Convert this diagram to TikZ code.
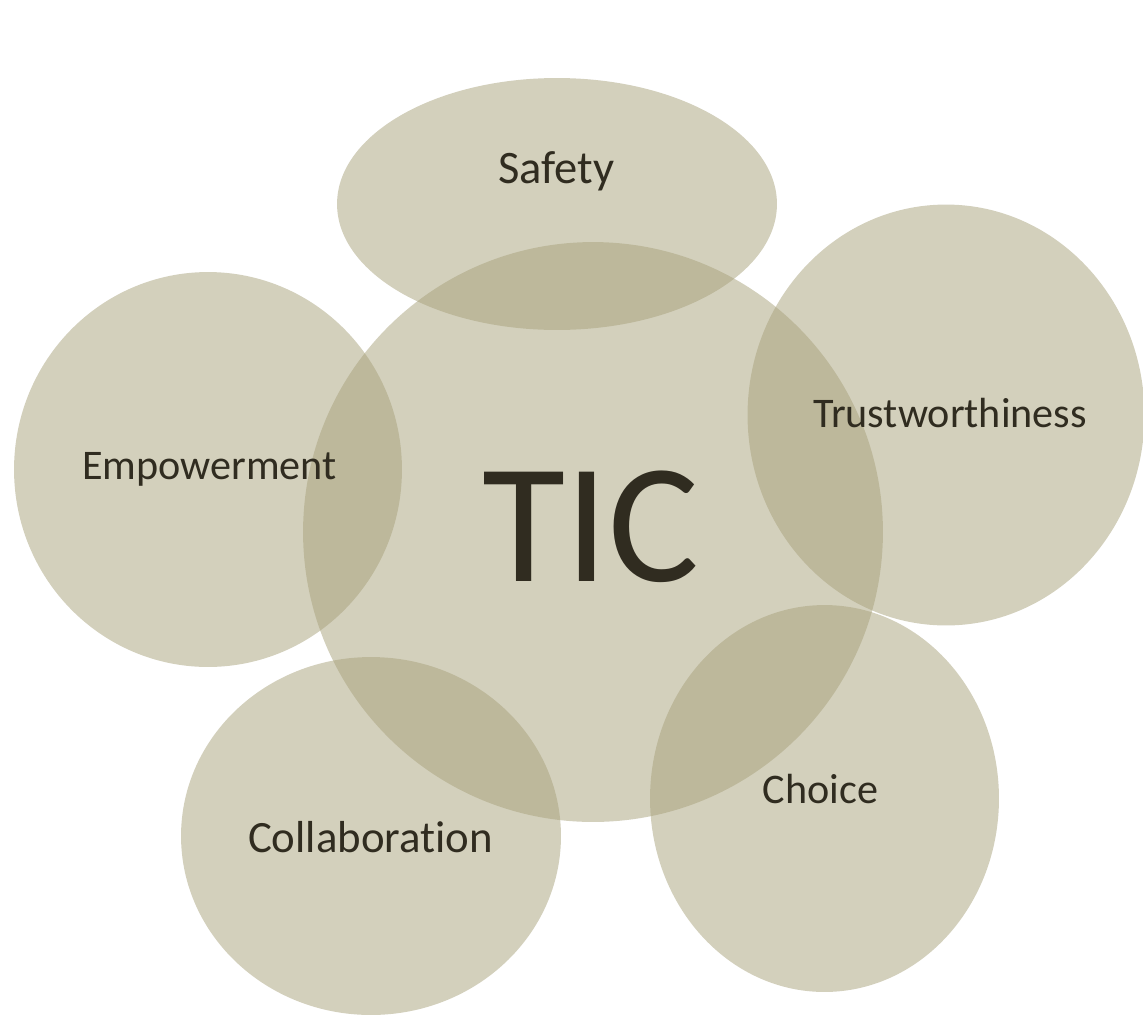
\documentclass[tikz,border=0pt]{standalone}
\usepackage{fontspec}
\setmainfont[Ligatures=NoCommon]{Carlito}
\usetikzlibrary{shapes.geometric}
\definecolor{blobfill}{RGB}{167,161,122}
\definecolor{ink}{RGB}{48,44,32}
\tikzstyle{blob} = [ellipse, inner sep=0pt, fill=blobfill, fill opacity=0.5, draw=none]
\tikzstyle{tag} = [anchor=base, text=ink, inner sep=0pt, font=\fontsize{24}{28}\selectfont]
\tikzstyle{title} = [anchor=base, text=ink, inner sep=0pt, font=\fontsize{97}{110}\selectfont]

\begin{document}
\begin{tikzpicture}[x=0.02cm, y=-0.02cm]
\useasboundingbox (0,0) rectangle (1143,1015);

\node (0) [blob, minimum width=11.6cm, minimum height=11.6cm] at (593,532) {};
\node (1) [blob, minimum width=8.8cm, minimum height=5.04cm] at (557,204) {};
\node (2) [blob, minimum width=7.94cm, minimum height=8.42cm] at (946,415) {};
\node (3) [blob, minimum width=6.98cm, minimum height=7.74cm] at (824.5,798.5) {};
\node (4) [blob, minimum width=7.6cm, minimum height=7.16cm] at (371,836) {};
\node (5) [blob, minimum width=7.76cm, minimum height=7.9cm] at (208,469.5) {};

\node (t0) [title] at (591,581) {TIC};
\node (t1) [tag, font=\fontsize{26.5}{30}\selectfont] at (556.5,183) {Safety};
\node (t2) [tag] at (950,427) {Trustworthiness};
\node (t3) [tag] at (820.5,803) {Choice};
\node (t4) [tag, font=\fontsize{25.5}{30}\selectfont] at (370.5,852) {Collaboration};
\node (t5) [tag] at (209.5,479) {Empowerment};

\end{tikzpicture}
\end{document}
